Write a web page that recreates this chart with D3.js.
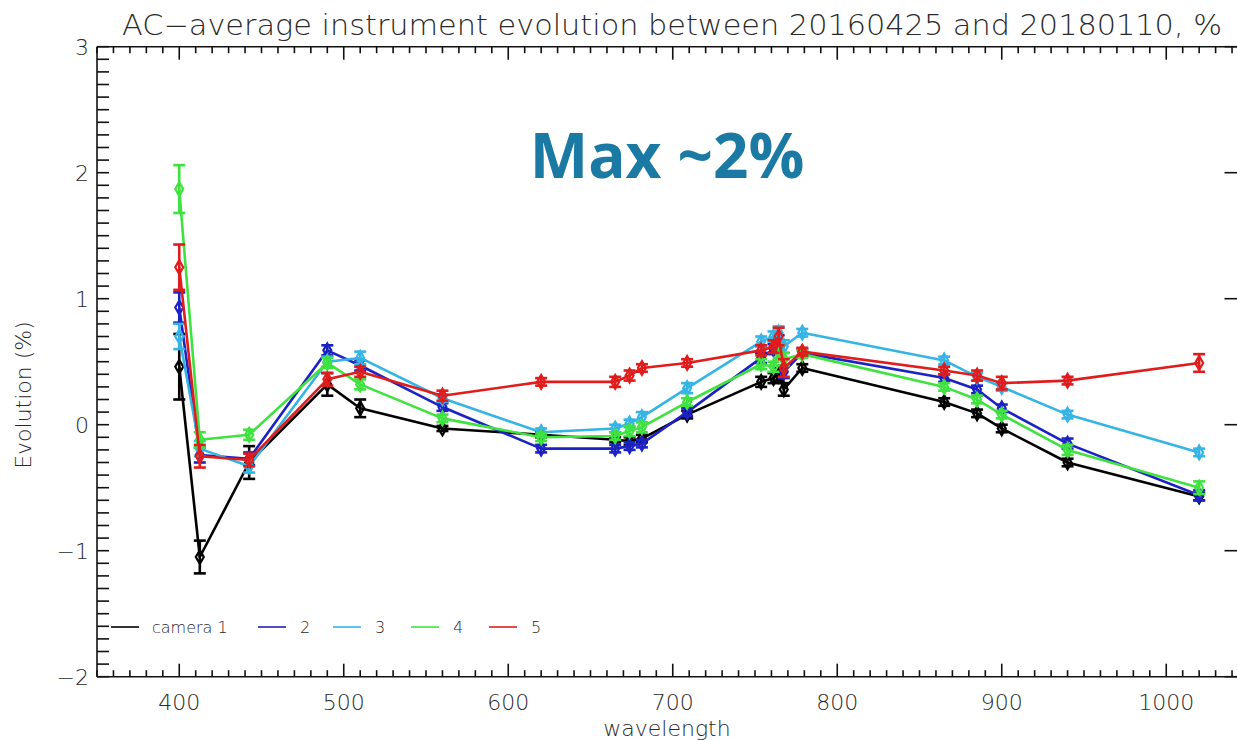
<!DOCTYPE html>
<html>
<head>
<meta charset="utf-8">
<script src="https://cdn.jsdelivr.net/npm/d3@7"></script>
<style>
  html, body { margin: 0; padding: 0; background: #fff; }
  svg { display: block; }
  text { font-family: "DejaVu Sans", sans-serif; fill: #2a2a2a; }
</style>
</head>
<body>
<svg id="chart" width="1237" height="740"></svg>
<script>
// OLCI band centres (nm)
const wavelengths = [400, 412.5, 442.5, 490, 510, 560, 620, 665, 673.75, 681.25, 708.75,
                     753.75, 761.25, 764.375, 767.5, 778.75, 865, 885, 900, 940, 1020];

// Evolution (%) per camera and its uncertainty
const cam1 = [0.46, -1.05, -0.30, 0.32, 0.13, -0.03, -0.08, -0.12, -0.13, -0.11, 0.08,
              0.34, 0.37, 0.40, 0.28, 0.45, 0.18, 0.09, -0.03, -0.30, -0.57];
const err1 = [0.26, 0.13, 0.13, 0.09, 0.07, 0.02, 0.02, 0.02, 0.03, 0.03, 0.03,
              0.04, 0.04, 0.05, 0.05, 0.03, 0.03, 0.03, 0.03, 0.03, 0.03];

const cam2 = [0.93, -0.24, -0.27, 0.59, 0.47, 0.14, -0.19, -0.19, -0.17, -0.15, 0.10,
              0.53, 0.60, 0.66, 0.42, 0.57, 0.37, 0.28, 0.13, -0.15, -0.56];
const err2 = [0.12, 0.06, 0.05, 0.04, 0.04, 0.03, 0.03, 0.03, 0.03, 0.03, 0.03,
              0.04, 0.04, 0.05, 0.05, 0.03, 0.03, 0.03, 0.03, 0.04, 0.04];

const cam3 = [0.70, -0.19, -0.33, 0.50, 0.53, 0.21, -0.06, -0.03, 0.01, 0.06, 0.29,
              0.66, 0.70, 0.73, 0.62, 0.73, 0.51, 0.38, 0.30, 0.08, -0.22];
const err3 = [0.10, 0.06, 0.05, 0.04, 0.05, 0.03, 0.03, 0.03, 0.03, 0.04, 0.04,
              0.04, 0.04, 0.05, 0.05, 0.03, 0.03, 0.03, 0.03, 0.03, 0.03];

const cam4 = [1.87, -0.12, -0.08, 0.49, 0.32, 0.05, -0.10, -0.09, -0.05, -0.02, 0.18,
              0.48, 0.46, 0.58, 0.52, 0.56, 0.30, 0.20, 0.08, -0.20, -0.50];
const err4 = [0.19, 0.06, 0.04, 0.04, 0.04, 0.03, 0.03, 0.03, 0.04, 0.04, 0.03,
              0.04, 0.04, 0.05, 0.05, 0.03, 0.03, 0.03, 0.03, 0.04, 0.05];

const cam5 = [1.25, -0.25, -0.28, 0.36, 0.42, 0.23, 0.34, 0.34, 0.39, 0.45, 0.49,
              0.59, 0.62, 0.70, 0.45, 0.58, 0.43, 0.39, 0.33, 0.35, 0.49];
const err5 = [0.18, 0.09, 0.05, 0.05, 0.04, 0.04, 0.03, 0.04, 0.04, 0.03, 0.03,
              0.04, 0.05, 0.07, 0.07, 0.03, 0.03, 0.04, 0.05, 0.03, 0.07];

const legendLabels = ["camera 1", "2", "3", "4", "5"];
const seriesColors = ["#000000", "#1c22c4", "#35b4e6", "#3fe23f", "#e01c1c"];

const xTicks = [400, 500, 600, 700, 800, 900, 1000];
const yTicks = [-2, -1, 0, 1, 2, 3];

const titleText = "AC\u2212average instrument evolution between 20160425 and 20180110, %";
const xTitle = "wavelength";
const yTitle = "Evolution (%)";
const noteText = "Max ~2%";

const errs = [err1, err2, err3, err4, err5];
const series = [cam1, cam2, cam3, cam4, cam5].map((vals, i) => ({
  name: legendLabels[i],
  color: seriesColors[i],
  points: vals.map((v, j) => ({ w: wavelengths[j], v: v, e: errs[i][j] }))
}));

const svg = d3.select("#chart");
const W = 1237, H = 740;
const plotLeft = 97, plotTop = 46.7, plotBottom = 676.7;

const x = d3.scaleLinear().domain([350, 1050]).range([plotLeft, plotLeft + 700 * 1.645]);
const y = d3.scaleLinear().domain([-2, 3]).range([plotBottom, plotTop]);

svg.append("rect").attr("width", W).attr("height", H).attr("fill", "#fff");

// plot frame and ticks
const axisG = svg.append("g").attr("stroke", "#111").attr("stroke-width", 1.6).attr("fill", "none");
axisG.append("line").attr("x1", x(350)).attr("x2", W).attr("y1", y(3)).attr("y2", y(3));
axisG.append("line").attr("x1", x(350)).attr("x2", W).attr("y1", y(-2)).attr("y2", y(-2));
axisG.append("line").attr("x1", x(350)).attr("x2", x(350)).attr("y1", y(3)).attr("y2", y(-2));
axisG.append("line").attr("x1", x(1050)).attr("x2", x(1050)).attr("y1", y(3)).attr("y2", y(-2));

const xMinor = d3.range(350, 1051, 10);
xMinor.forEach(t => {
  const major = t % 100 === 0;
  const len = major ? 13 : 6.5;
  axisG.append("line").attr("x1", x(t)).attr("x2", x(t)).attr("y1", y(-2)).attr("y2", y(-2) - len);
  axisG.append("line").attr("x1", x(t)).attr("x2", x(t)).attr("y1", y(3)).attr("y2", y(3) + len);
});
const yMinor = d3.range(-20, 31, 1).map(d => d / 10);
yMinor.forEach(t => {
  axisG.append("line").attr("x1", x(350)).attr("x2", x(350) + 12).attr("y1", y(t)).attr("y2", y(t));
});
yTicks.forEach(t => {
  axisG.append("line").attr("x1", x(1050)).attr("x2", x(1050) - 24).attr("y1", y(t)).attr("y2", y(t));
});

// tick labels
svg.append("g").selectAll("text").data(xTicks).join("text")
  .attr("x", d => x(d)).attr("y", 710)
  .attr("text-anchor", "middle").attr("font-size", 22).style("font-weight", 200)
  .text(d => d);
svg.append("g").selectAll("text").data(yTicks).join("text")
  .attr("x", 89).attr("y", d => y(d) + 8)
  .attr("text-anchor", "end").attr("font-size", 22).style("font-weight", 200)
  .text(d => d < 0 ? "\u2212" + Math.abs(d) : d);

// titles
svg.append("text").attr("x", 122).attr("y", 35).attr("font-size", 28).style("font-weight", 200)
  .attr("textLength", 1100).attr("lengthAdjust", "spacingAndGlyphs").text(titleText);
svg.append("text").attr("x", 667).attr("y", 736).attr("text-anchor", "middle")
  .attr("font-size", 22).style("font-weight", 200).text(xTitle);
svg.append("text").attr("transform", "translate(31,395) rotate(-90)")
  .attr("text-anchor", "middle").attr("font-size", 22).style("font-weight", 200).text(yTitle);

// series
const line = d3.line().x(d => x(d.w)).y(d => y(d.v));
const diamond = d3.symbol().type(d3.symbolDiamond).size(55);
const plot = svg.append("g");
series.forEach(s => {
  const g = plot.append("g").attr("stroke", s.color).attr("fill", "none");
  g.append("path").datum(s.points).attr("d", line).attr("stroke-width", 2.6)
    .attr("stroke-linejoin", "round");
  const eb = g.selectAll("g.eb").data(s.points).join("g").attr("class", "eb").attr("stroke-width", 2.6);
  eb.append("line").attr("x1", d => x(d.w)).attr("x2", d => x(d.w))
    .attr("y1", d => y(d.v - d.e)).attr("y2", d => y(d.v + d.e));
  eb.append("line").attr("x1", d => x(d.w) - 6).attr("x2", d => x(d.w) + 6)
    .attr("y1", d => y(d.v + d.e)).attr("y2", d => y(d.v + d.e));
  eb.append("line").attr("x1", d => x(d.w) - 6).attr("x2", d => x(d.w) + 6)
    .attr("y1", d => y(d.v - d.e)).attr("y2", d => y(d.v - d.e));
  g.selectAll("path.mk").data(s.points).join("path").attr("class", "mk")
    .attr("transform", d => `translate(${x(d.w)},${y(d.v)})`)
    .attr("d", diamond).attr("stroke-width", 2.2);
});

// legend
const legendX = [111, 258, 333, 411, 489];
const legend = svg.append("g");
series.forEach((s, i) => {
  legend.append("line").attr("x1", legendX[i]).attr("x2", legendX[i] + 28)
    .attr("y1", 627).attr("y2", 627).attr("stroke", s.color).attr("stroke-width", 1.6);
  legend.append("text").attr("x", legendX[i] + (i === 0 ? 41 : 42)).attr("y", 633)
    .attr("font-size", 16).style("font-weight", 200).text(s.name);
});

// annotation
svg.append("text").attr("x", 667).attr("y", 178).attr("text-anchor", "middle")
  .style("font-family", "'Open Sans', sans-serif").style("font-weight", 700)
  .style("fill", "#1a7aa3").attr("font-size", 62).text(noteText);
</script>
</body>
</html>
